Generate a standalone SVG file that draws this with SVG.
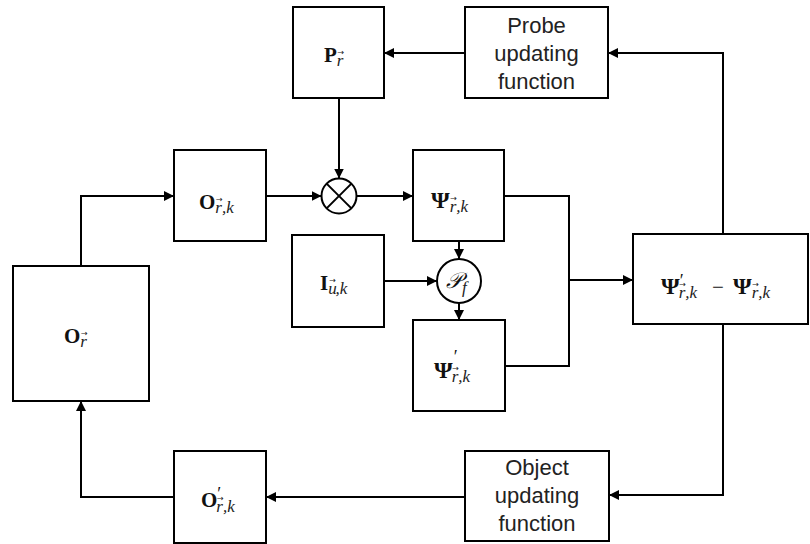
<svg xmlns="http://www.w3.org/2000/svg" width="810" height="544" viewBox="0 0 810 544">
<defs>
<marker id="ah" viewBox="0 0 10 10" refX="10" refY="5" markerWidth="10" markerHeight="10" markerUnits="userSpaceOnUse" orient="auto">
<path d="M0,0 L10,5 L0,10 z" fill="#000"/>
</marker>
<style>
.box{fill:#fff;stroke:#000;stroke-width:2}
.circ{fill:#fff;stroke:#000;stroke-width:2}
.ln{fill:none;stroke:#000;stroke-width:2}
.arr{fill:none;stroke:#000;stroke-width:2;marker-end:url(#ah)}
.lbl{font-family:"Liberation Sans",Arial,sans-serif;font-size:22px;fill:#222;text-anchor:middle}
.m{font-family:"Liberation Serif","Times New Roman",serif;font-size:21px;font-weight:bold;fill:#111}
.g{font-size:24px}
.s{font-family:"Liberation Serif","Times New Roman",serif;font-size:17px;font-style:italic;font-weight:normal;fill:#222}
.v{font-family:"DejaVu Sans",sans-serif;font-size:8px;font-style:normal;font-weight:normal;fill:#222}
.pr{font-family:"Liberation Serif","Times New Roman",serif;font-size:18px;font-weight:normal;font-style:normal;fill:#111}
.sc{font-family:"DejaVu Serif","Noto Sans",serif;font-size:22px;font-style:italic;fill:#111}
</style>
</defs>
<rect width="810" height="544" fill="#fff"/>

<g id="connectors">
<polyline class="arr" points="81,266 81,196 174,196"/>
<line class="arr" x1="266" y1="196" x2="321.5" y2="196"/>
<line class="arr" x1="356.5" y1="196" x2="413" y2="196"/>
<line class="arr" x1="339" y1="98" x2="339" y2="178.5"/>
<line class="arr" x1="465" y1="53" x2="384" y2="53"/>
<polyline class="ln" points="504,196 569,196 569,366 505,366"/>
<line class="arr" x1="569" y1="280" x2="633" y2="280"/>
<line class="arr" x1="459" y1="241" x2="459" y2="259"/>
<line class="arr" x1="459" y1="303" x2="459" y2="320"/>
<line class="arr" x1="384" y1="281" x2="437" y2="281"/>
<polyline class="arr" points="723,234 723,53 608,53"/>
<polyline class="arr" points="723,324 723,495 609,495"/>
<line class="arr" x1="465" y1="497" x2="266" y2="497"/>
<polyline class="arr" points="174,497 81,497 81,401"/>
</g>

<g id="node-P">
<rect class="box" x="293" y="7" width="91" height="91"/>
<text class="m" x="324" y="62">P<tspan class="s" dy="4">r</tspan><tspan class="v" dx="-6" dy="-11">→</tspan></text>
</g>

<g id="node-probe">
<rect class="box" x="465" y="7" width="143" height="91"/>
<text class="lbl" x="536.5" y="33">Probe</text>
<text class="lbl" x="536.5" y="61">updating</text>
<text class="lbl" x="536.5" y="89">function</text>
</g>

<g id="node-Ork">
<rect class="box" x="174" y="150" width="92" height="91"/>
<text class="m" x="199" y="209">O<tspan class="s" dy="4">r</tspan><tspan class="v" dx="-6" dy="-11">→</tspan><tspan class="s" dx="-0.7" dy="11">,k</tspan></text>
</g>

<g id="node-mult">
<circle class="circ" cx="339" cy="196" r="17.5"/>
<line class="ln" x1="326.6" y1="183.6" x2="351.4" y2="208.4"/>
<line class="ln" x1="351.4" y1="183.6" x2="326.6" y2="208.4"/>
</g>

<g id="node-Psi">
<rect class="box" x="413" y="150" width="91" height="91"/>
<text class="m" x="431" y="208"><tspan class="g">Ψ</tspan><tspan class="s" dy="4">r</tspan><tspan class="v" dx="-6" dy="-11">→</tspan><tspan class="s" dx="-0.7" dy="11">,k</tspan></text>
</g>

<g id="node-I">
<rect class="box" x="292" y="235" width="92" height="92"/>
<text class="m" x="320" y="290">I<tspan class="s" dy="4">u</tspan><tspan class="v" dx="-7.5" dy="-11">→</tspan><tspan class="s" dx="-0.5" dy="11">,k</tspan></text>
</g>

<g id="node-Pf">
<circle class="circ" cx="459" cy="281" r="22"/>
<text class="sc" x="446" y="288">𝒫<tspan class="s" dy="5">f</tspan></text>
</g>

<g id="node-Psip">
<rect class="box" x="413" y="320" width="92" height="91"/>
<text class="m" x="434" y="378"><tspan class="g">Ψ</tspan><tspan class="pr" dx="1" dy="-15">′</tspan><tspan class="s" dx="-6" dy="19">r</tspan><tspan class="v" dx="-6" dy="-11">→</tspan><tspan class="s" dx="-0.7" dy="11">,k</tspan></text>
</g>

<g id="node-diff">
<rect class="box" x="633" y="234" width="175" height="90"/>
<text class="m" x="661" y="294"><tspan class="g">Ψ</tspan><tspan class="pr" dy="-7">′</tspan><tspan class="s" dx="-5" dy="11">r</tspan><tspan class="v" dx="-6" dy="-11">→</tspan><tspan class="s" dx="-0.7" dy="11">,k</tspan></text>
<text class="m" x="712" y="294" style="font-weight:normal">−</text>
<text class="m" x="733" y="294"><tspan class="g">Ψ</tspan><tspan class="s" dy="4">r</tspan><tspan class="v" dx="-6" dy="-11">→</tspan><tspan class="s" dx="-0.7" dy="11">,k</tspan></text>
</g>

<g id="node-Or">
<rect class="box" x="13" y="266" width="136" height="135"/>
<text class="m" x="64" y="343">O<tspan class="s" dy="4">r</tspan><tspan class="v" dx="-6" dy="-11">→</tspan></text>
</g>

<g id="node-Op">
<rect class="box" x="174" y="451" width="92" height="92"/>
<text class="m" x="201" y="507">O<tspan class="pr" dy="-7">′</tspan><tspan class="s" dx="-5" dy="12">r</tspan><tspan class="v" dx="-6" dy="-11">→</tspan><tspan class="s" dx="-0.7" dy="11">,k</tspan></text>
</g>

<g id="node-object">
<rect class="box" x="465" y="451" width="144" height="90"/>
<text class="lbl" x="537" y="475">Object</text>
<text class="lbl" x="537" y="503">updating</text>
<text class="lbl" x="537" y="531">function</text>
</g>
</svg>
